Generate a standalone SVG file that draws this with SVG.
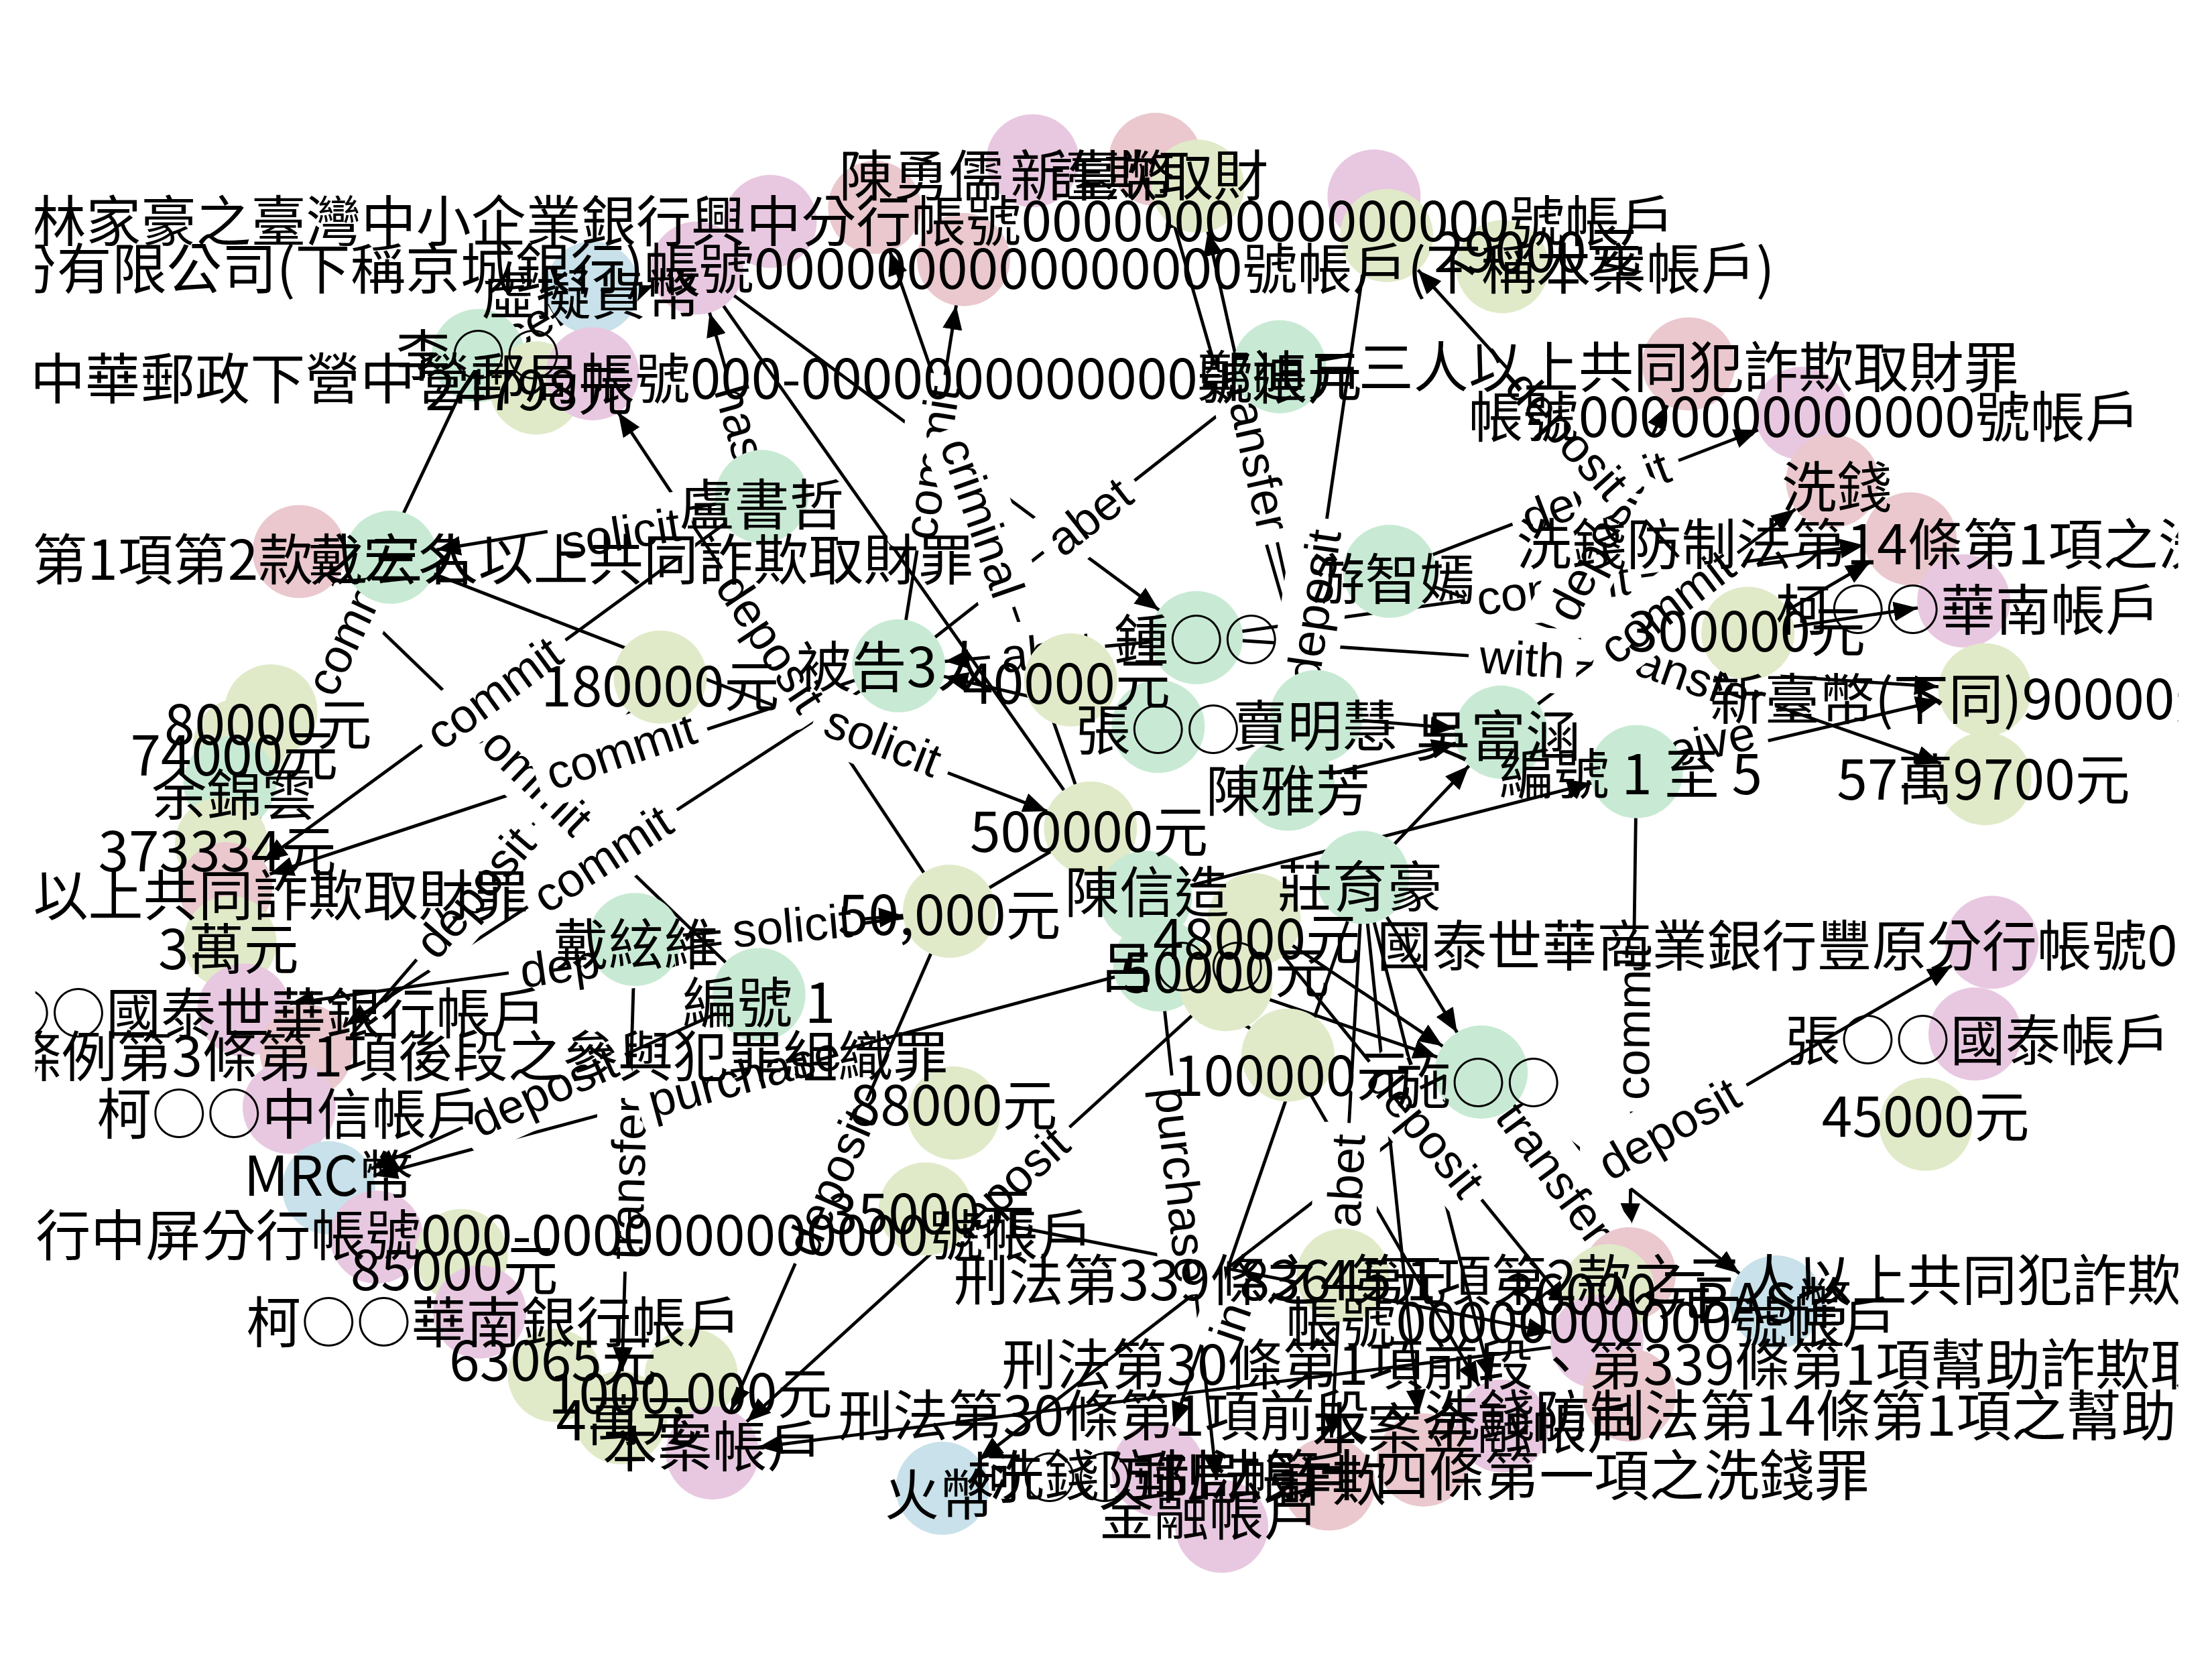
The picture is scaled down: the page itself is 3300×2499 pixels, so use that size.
<svg xmlns="http://www.w3.org/2000/svg" width="3300" height="2499" viewBox="0 0 3300 2499">
<defs>
<style>
.g{fill:#c8ead4}.y{fill:#e0eac8}.l{fill:#e8c8e0}.r{fill:#eac8ce}.b{fill:#c8e1ea}
.t{font-family:"Noto Sans CJK TC","Noto Sans CJK SC",sans-serif;font-size:39px;fill:#000;dominant-baseline:central;text-anchor:middle}
.s{text-anchor:start}.e{text-anchor:end}
.el{font-family:"Liberation Sans",Arial,sans-serif;font-size:34px;fill:#000;text-anchor:middle;dominant-baseline:central}
.bx{fill:#fff}
#edges line{stroke:#000;stroke-width:2.3;marker-end:url(#ah)}
#edges line.na{marker-end:none}
</style>
<marker id="ah" viewBox="0 0 64 14" markerUnits="userSpaceOnUse" markerWidth="64" markerHeight="14" refX="50" refY="7" orient="auto"><path d="M0,0 L17,7 L0,14 z" fill="#000"/></marker>
<clipPath id="ax"><rect x="25" y="0" width="1519" height="1188"/></clipPath>
</defs>
<rect width="3300" height="2499" fill="#fff"/>
<g transform="scale(2.10459)">
<g clip-path="url(#ax)">
<g id="edges">
<line x1="339" y1="252" x2="420" y2="204"/>
<line x1="673" y1="646" x2="420" y2="265"/>
<line x1="540" y1="352" x2="277" y2="395"/>
<line x1="637" y1="472" x2="907" y2="260"/>
<line x1="637" y1="472" x2="683" y2="184"/>
<line x1="773" y1="587" x2="620" y2="147"/>
<line x1="933" y1="508" x2="849" y2="132"/>
<line x1="933" y1="508" x2="819" y2="113"/>
<line x1="913" y1="556" x2="974" y2="139"/>
<line x1="848" y1="452" x2="1407" y2="489"/>
<line x1="985" y1="405" x2="1407" y2="552"/>
<line x1="1160" y1="547" x2="1407" y2="489"/>
<line x1="848" y1="452" x2="1354" y2="382"/>
<line x1="985" y1="405" x2="1277" y2="293"/>
<line x1="1064" y1="519" x2="1299" y2="341"/>
<line x1="1064" y1="519" x2="1197" y2="258"/>
<line x1="1239" y1="449" x2="983" y2="167"/>
<line x1="1239" y1="449" x2="1392" y2="426"/>
<line x1="1160" y1="547" x2="1155" y2="903"/>
<line x1="1050" y1="760" x2="1155" y2="903"/>
<line x1="1120" y1="838" x2="1412" y2="668"/>
<line x1="933" y1="508" x2="1064" y2="519"/>
<line x1="913" y1="556" x2="1064" y2="519"/>
<line x1="966" y1="622" x2="1064" y2="519"/>
<line x1="812" y1="636" x2="1160" y2="547"/>
<line x1="966" y1="622" x2="942" y2="1052"/>
<line x1="822" y1="684" x2="866" y2="1082"/>
<line x1="966" y1="622" x2="821" y2="1042"/>
<line x1="1050" y1="760" x2="668" y2="1055"/>
<line x1="869" y1="698" x2="505" y2="1030"/>
<line x1="673" y1="646" x2="505" y2="1030"/>
<line x1="450" y1="666" x2="440" y2="1005"/>
<line x1="538" y1="705" x2="233" y2="842"/>
<line x1="822" y1="684" x2="233" y2="842"/>
<line x1="468" y1="480" x2="205" y2="785"/>
<line x1="673" y1="646" x2="173" y2="716"/>
<line x1="538" y1="705" x2="212" y2="391"/>
<line x1="637" y1="472" x2="217" y2="745"/>
<line x1="637" y1="472" x2="160" y2="630"/>
<line x1="540" y1="352" x2="160" y2="630"/>
<line x1="339" y1="252" x2="160" y2="630"/>
<line x1="540" y1="352" x2="494" y2="190"/>
<line x1="494" y1="190" x2="848" y2="452"/>
<line class="na" x1="773" y1="587" x2="494" y2="190"/>
<line class="na" x1="673" y1="646" x2="773" y2="587"/>
<line x1="277" y1="395" x2="773" y2="587"/>
<line x1="848" y1="452" x2="637" y2="472"/>
<line x1="821" y1="515" x2="637" y2="472"/>
<line x1="889" y1="652" x2="1050" y2="760"/>
<line x1="869" y1="698" x2="1050" y2="760"/>
<line x1="889" y1="652" x2="1132" y2="951"/>
<line x1="966" y1="622" x2="1009" y2="1035"/>
<line x1="913" y1="748" x2="1065" y2="1011"/>
<line x1="656" y1="857" x2="1132" y2="951"/>
<line x1="1132" y1="951" x2="505" y2="1030"/>
<line x1="1050" y1="760" x2="1259" y2="923"/>
<line x1="966" y1="622" x2="1050" y2="760"/>
<line x1="966" y1="622" x2="1065" y2="1011"/>
<line x1="822" y1="684" x2="913" y2="748"/>
<line x1="339" y1="252" x2="494" y2="190"/>
<line x1="450" y1="666" x2="673" y2="646"/>
<line x1="1239" y1="449" x2="1354" y2="382"/>
</g>
<g id="edge-labels">
<g transform="translate(379.5 228) rotate(-30.6)"><rect class="bx" x="-63" y="-23" width="126" height="46" rx="8"/><text class="el">receive</text></g>
<g transform="translate(546.5 455.5) rotate(56.4)"><rect class="bx" x="-63" y="-23" width="126" height="46" rx="8"/><text class="el">deposit</text></g>
<g transform="translate(440 378) rotate(-9.3)"><rect class="bx" x="-51" y="-23" width="102" height="46" rx="8"/><text class="el">solicit</text></g>
<g transform="translate(772 366) rotate(-38.1)"><rect class="bx" x="-41" y="-23" width="82" height="46" rx="8"/><text class="el">abet</text></g>
<g transform="translate(660 328) rotate(-80.9)"><rect class="bx" x="-63" y="-23" width="126" height="46" rx="8"/><text class="el">commit</text></g>
<g transform="translate(696.5 367) rotate(70.8)"><rect class="bx" x="-67" y="-23" width="134" height="46" rx="8"/><text class="el">criminal</text></g>
<g transform="translate(891 320) rotate(77.4)"><rect class="bx" x="-66" y="-23" width="132" height="46" rx="8"/><text class="el">transfer</text></g>
<g transform="translate(931 430) rotate(-81.7)"><rect class="bx" x="-63" y="-23" width="126" height="46" rx="8"/><text class="el">deposit</text></g>
<g transform="translate(1079 467) rotate(3.8)"><rect class="bx" x="-38" y="-23" width="77" height="46" rx="8"/><text class="el">with</text></g>
<g transform="translate(1196 478.5) rotate(19.2)"><rect class="bx" x="-66" y="-23" width="132" height="46" rx="8"/><text class="el">transfer</text></g>
<g transform="translate(1190 531) rotate(-13.2)"><rect class="bx" x="-63" y="-23" width="126" height="46" rx="8"/><text class="el">receive</text></g>
<g transform="translate(1101 417) rotate(-7.9)"><rect class="bx" x="-63" y="-23" width="126" height="46" rx="8"/><text class="el">commit</text></g>
<g transform="translate(1131 349) rotate(-21)"><rect class="bx" x="-63" y="-23" width="126" height="46" rx="8"/><text class="el">deposit</text></g>
<g transform="translate(1181.5 430) rotate(-37.1)"><rect class="bx" x="-63" y="-23" width="126" height="46" rx="8"/><text class="el">commit</text></g>
<g transform="translate(1130.5 388.5) rotate(-63)"><rect class="bx" x="-63" y="-23" width="126" height="46" rx="8"/><text class="el">deposit</text></g>
<g transform="translate(1111 308) rotate(47.8)"><rect class="bx" x="-63" y="-23" width="126" height="46" rx="8"/><text class="el">deposit</text></g>
<g transform="translate(1157.5 725) rotate(-89.2)"><rect class="bx" x="-63" y="-23" width="126" height="46" rx="8"/><text class="el">commit</text></g>
<g transform="translate(1102.5 831.5) rotate(53.7)"><rect class="bx" x="-66" y="-23" width="132" height="46" rx="8"/><text class="el">transfer</text></g>
<g transform="translate(1183 800) rotate(-30.2)"><rect class="bx" x="-63" y="-23" width="126" height="46" rx="8"/><text class="el">deposit</text></g>
<g transform="translate(954 837) rotate(-86.8)"><rect class="bx" x="-41" y="-23" width="82" height="46" rx="8"/><text class="el">abet</text></g>
<g transform="translate(838 840) rotate(83.7)"><rect class="bx" x="-78" y="-23" width="156" height="46" rx="8"/><text class="el">purchase</text></g>
<g transform="translate(872 937) rotate(-71)"><rect class="bx" x="-22" y="-23" width="44" height="46" rx="8"/><text class="el">in</text></g>
<g transform="translate(712 842) rotate(-42.4)"><rect class="bx" x="-63" y="-23" width="126" height="46" rx="8"/><text class="el">deposit</text></g>
<g transform="translate(589 838) rotate(-66.4)"><rect class="bx" x="-63" y="-23" width="126" height="46" rx="8"/><text class="el">deposit</text></g>
<g transform="translate(445 835.5) rotate(-88.3)"><rect class="bx" x="-66" y="-23" width="132" height="46" rx="8"/><text class="el">transfer</text></g>
<g transform="translate(385.5 773.5) rotate(-24.2)"><rect class="bx" x="-63" y="-23" width="126" height="46" rx="8"/><text class="el">deposit</text></g>
<g transform="translate(527.5 763) rotate(-15)"><rect class="bx" x="-78" y="-23" width="156" height="46" rx="8"/><text class="el">purchase</text></g>
<g transform="translate(336.5 632.5) rotate(-49.2)"><rect class="bx" x="-63" y="-23" width="126" height="46" rx="8"/><text class="el">deposit</text></g>
<g transform="translate(423 681) rotate(-8)"><rect class="bx" x="-63" y="-23" width="126" height="46" rx="8"/><text class="el">deposit</text></g>
<g transform="translate(375 548) rotate(44)"><rect class="bx" x="-63" y="-23" width="126" height="46" rx="8"/><text class="el">commit</text></g>
<g transform="translate(427 608.5) rotate(-33)"><rect class="bx" x="-63" y="-23" width="126" height="46" rx="8"/><text class="el">commit</text></g>
<g transform="translate(440 532) rotate(-18.3)"><rect class="bx" x="-63" y="-23" width="126" height="46" rx="8"/><text class="el">commit</text></g>
<g transform="translate(350 491) rotate(-36.2)"><rect class="bx" x="-63" y="-23" width="126" height="46" rx="8"/><text class="el">commit</text></g>
<g transform="translate(249.5 441) rotate(-64.7)"><rect class="bx" x="-63" y="-23" width="126" height="46" rx="8"/><text class="el">commit</text></g>
<g transform="translate(525 300) rotate(74.1)"><rect class="bx" x="-36" y="-23" width="72" height="46" rx="8"/><text class="el">has</text></g>
<g transform="translate(626 525) rotate(21.2)"><rect class="bx" x="-51" y="-23" width="102" height="46" rx="8"/><text class="el">solicit</text></g>
<g transform="translate(742.5 462) rotate(-5.4)"><rect class="bx" x="-41" y="-23" width="82" height="46" rx="8"/><text class="el">abet</text></g>
<g transform="translate(1010.5 801.5) rotate(50.9)"><rect class="bx" x="-63" y="-23" width="126" height="46" rx="8"/><text class="el">deposit</text></g>
<g transform="translate(561.5 656) rotate(-5.1)"><rect class="bx" x="-51" y="-23" width="102" height="46" rx="8"/><text class="el">solicit</text></g>
</g>
<g id="nodes">
<g id="n01"><circle class="l" cx="546" cy="157" r="33"/></g>
<g id="n02"><circle class="l" cx="494" cy="190" r="33"/></g>
<g id="n03"><circle class="r" cx="620" cy="147" r="33"/></g>
<g id="n04"><circle class="r" cx="683" cy="184" r="33"/></g>
<g id="n05"><circle class="l" cx="732" cy="114" r="33"/></g>
<g id="n06"><circle class="r" cx="819" cy="113" r="33"/></g>
<g id="n07"><circle class="y" cx="849" cy="132" r="33"/></g>
<g id="n08"><circle class="l" cx="974" cy="139" r="33"/></g>
<g id="n09"><circle class="y" cx="983" cy="167" r="33"/></g>
<g id="n10"><circle class="y" cx="1065" cy="189" r="33"/></g>
<g id="n11"><circle class="b" cx="420" cy="204" r="33"/></g>
<g id="n12"><circle class="g" cx="339" cy="252" r="33"/></g>
<g id="n13"><circle class="y" cx="380" cy="275" r="33"/></g>
<g id="n14"><circle class="l" cx="420" cy="265" r="33"/></g>
<g id="n15"><circle class="g" cx="907" cy="260" r="33"/></g>
<g id="n16"><circle class="r" cx="1197" cy="258" r="33"/></g>
<g id="n17"><circle class="l" cx="1277" cy="293" r="33"/></g>
<g id="n18"><circle class="g" cx="540" cy="352" r="33"/></g>
<g id="n19"><circle class="r" cx="1299" cy="341" r="33"/></g>
<g id="n20"><circle class="r" cx="212" cy="391" r="33"/></g>
<g id="n21"><circle class="g" cx="277" cy="395" r="33"/></g>
<g id="n22"><circle class="r" cx="1354" cy="382" r="33"/></g>
<g id="n23"><circle class="g" cx="985" cy="405" r="33"/></g>
<g id="n24"><circle class="l" cx="1392" cy="426" r="33"/></g>
<g id="n25"><circle class="y" cx="1239" cy="449" r="33"/></g>
<g id="n26"><circle class="g" cx="848" cy="452" r="33"/></g>
<g id="n27"><circle class="g" cx="637" cy="472" r="33"/></g>
<g id="n28"><circle class="y" cx="759" cy="482" r="33"/></g>
<g id="n29"><circle class="y" cx="468" cy="480" r="33"/></g>
<g id="n30"><circle class="y" cx="192" cy="504" r="33"/></g>
<g id="n31"><circle class="y" cx="170" cy="528" r="33"/></g>
<g id="n32"><circle class="g" cx="163" cy="555" r="33"/></g>
<g id="n33"><circle class="y" cx="157" cy="598" r="33"/></g>
<g id="n34"><circle class="r" cx="160" cy="630" r="33"/></g>
<g id="n35"><circle class="y" cx="163" cy="668" r="33"/></g>
<g id="n36"><circle class="l" cx="173" cy="716" r="33"/></g>
<g id="n37"><circle class="r" cx="217" cy="745" r="33"/></g>
<g id="n38"><circle class="l" cx="205" cy="785" r="33"/></g>
<g id="n39"><circle class="b" cx="233" cy="842" r="33"/></g>
<g id="n40"><circle class="l" cx="267" cy="877" r="33"/></g>
<g id="n41"><circle class="y" cx="327" cy="890" r="33"/></g>
<g id="n42"><circle class="l" cx="340" cy="930" r="33"/></g>
<g id="n43"><circle class="y" cx="393" cy="975" r="33"/></g>
<g id="n44"><circle class="y" cx="490" cy="975" r="33"/></g>
<g id="n45"><circle class="y" cx="440" cy="1005" r="33"/></g>
<g id="n46"><circle class="l" cx="505" cy="1030" r="33"/></g>
<g id="n47"><circle class="g" cx="933" cy="508" r="33"/></g>
<g id="n48"><circle class="g" cx="821" cy="515" r="33"/></g>
<g id="n49"><circle class="g" cx="913" cy="556" r="33"/></g>
<g id="n50"><circle class="g" cx="1064" cy="519" r="33"/></g>
<g id="n51"><circle class="g" cx="1160" cy="547" r="33"/></g>
<g id="n52"><circle class="y" cx="1407" cy="489" r="33"/></g>
<g id="n53"><circle class="y" cx="1407" cy="552" r="33"/></g>
<g id="n54"><circle class="y" cx="773" cy="587" r="33"/></g>
<g id="n55"><circle class="g" cx="812" cy="636" r="33"/></g>
<g id="n56"><circle class="g" cx="966" cy="622" r="33"/></g>
<g id="n57"><circle class="y" cx="673" cy="646" r="33"/></g>
<g id="n58"><circle class="g" cx="450" cy="666" r="33"/></g>
<g id="n59"><circle class="g" cx="538" cy="705" r="33"/></g>
<g id="n60"><circle class="g" cx="822" cy="684" r="33"/></g>
<g id="n61"><circle class="y" cx="889" cy="652" r="33"/></g>
<g id="n62"><circle class="y" cx="869" cy="698" r="33"/></g>
<g id="n63"><circle class="l" cx="1412" cy="668" r="33"/></g>
<g id="n64"><circle class="l" cx="1400" cy="733" r="33"/></g>
<g id="n65"><circle class="y" cx="1365" cy="797" r="33"/></g>
<g id="n66"><circle class="y" cx="913" cy="748" r="33"/></g>
<g id="n67"><circle class="g" cx="1050" cy="760" r="33"/></g>
<g id="n68"><circle class="y" cx="676" cy="789" r="33"/></g>
<g id="n69"><circle class="y" cx="656" cy="857" r="33"/></g>
<g id="n70"><circle class="r" cx="1155" cy="903" r="33"/></g>
<g id="n71"><circle class="y" cx="952" cy="904" r="33"/></g>
<g id="n72"><circle class="b" cx="1259" cy="923" r="33"/></g>
<g id="n73"><circle class="y" cx="1140" cy="915" r="33"/></g>
<g id="n74"><circle class="l" cx="1132" cy="951" r="33"/></g>
<g id="n75"><circle class="r" cx="1155" cy="989" r="33"/></g>
<g id="n76"><circle class="l" cx="1065" cy="1011" r="33"/></g>
<g id="n77"><circle class="r" cx="1009" cy="1035" r="33"/></g>
<g id="n78"><circle class="b" cx="668" cy="1055" r="33"/></g>
<g id="n79"><circle class="l" cx="821" cy="1042" r="33"/></g>
<g id="n80"><circle class="l" cx="866" cy="1082" r="33"/></g>
<g id="n81"><circle class="r" cx="942" cy="1052" r="33"/></g>
</g>
<g id="node-labels">
<text class="t" x="653" y="122">陳勇儒</text>
<text class="t s" x="716" y="122">新臺幣</text>
<text class="t" x="821" y="122">詐欺取財</text>
<text class="t s" x="22" y="154">林家豪之臺灣中小企業銀行興中分行帳號0000000000000000號帳戶</text>
<text class="t e" x="1258" y="188">京城商業銀行股份有限公司(下稱京城銀行)帳號0000000000000000號帳戶(下稱本案帳戶)</text>
<text class="t" x="1090" y="176">29000元</text>
<text class="t" x="419" y="206">虛擬貨幣</text>
<text class="t" x="339" y="249">李○○</text>
<text class="t e" x="966" y="266">中華郵政下營中營郵局帳號000-0000000000000號帳戶</text>
<text class="t" x="375" y="274">24798元</text>
<text class="t" x="907" y="264">鄭迪元</text>
<text class="t" x="1197" y="258">三人以上共同犯詐欺取財罪</text>
<text class="t" x="1279" y="293">帳號0000000000000號帳戶</text>
<text class="t" x="540" y="355">盧書哲</text>
<text class="t" x="1302" y="343">洗錢</text>
<text class="t e" x="690" y="394">刑法第339條之4第1項第2款之三人以上共同詐欺取財罪</text>
<text class="t" x="277" y="394">戴宏名</text>
<text class="t s" x="1075" y="383">洗錢防制法第14條第1項之洗錢罪</text>
<text class="t" x="987" y="408">游智嫣</text>
<text class="t" x="1395" y="430">柯○○華南帳戶</text>
<text class="t" x="1238" y="445">300000元</text>
<text class="t" x="848" y="451">鍾○○</text>
<text class="t" x="634" y="470">被告3人</text>
<text class="t" x="756" y="482">40000元</text>
<text class="t" x="468" y="484">180000元</text>
<text class="t" x="190" y="511">80000元</text>
<text class="t" x="166" y="533">74000元</text>
<text class="t" x="166" y="561">余錦雲</text>
<text class="t" x="154" y="601">373334元</text>
<text class="t" x="160" y="632">三人以上共同詐欺取財罪</text>
<text class="t" x="162" y="670">3萬元</text>
<text class="t e" x="387" y="716">柯○○國泰世華銀行帳戶</text>
<text class="t e" x="672" y="746">組織犯罪防制條例第3條第1項後段之參與犯罪組織罪</text>
<text class="t" x="205" y="787">柯○○中信帳戶</text>
<text class="t" x="233" y="831">MRC幣</text>
<text class="t e" x="775" y="873">臺灣土地銀行中屏分行帳號000-0000000000000號帳戶</text>
<text class="t" x="322" y="898">85000元</text>
<text class="t" x="350" y="935">柯○○華南銀行帳戶</text>
<text class="t" x="392" y="962">63065元</text>
<text class="t e" x="590" y="985">1000,000元</text>
<text class="t" x="444" y="1004">4萬元</text>
<text class="t" x="505" y="1023">本案帳戶</text>
<text class="t s" x="594" y="1001">刑法第30條第1項前段、洗錢防制法第14條第1項之幫助洗錢罪</text>
<text class="t" x="666" y="1057">火幣</text>
<text class="t" x="822" y="1045">柯○○郵局帳戶</text>
<text class="t e" x="1325" y="1043">洗錢防制法第十四條第一項之洗錢罪</text>
<text class="t" x="857" y="1071">金融帳戶</text>
<text class="t" x="944" y="1047">詐欺</text>
<text class="t" x="1047" y="1010">本案金融帳戶</text>
<text class="t s" x="710" y="965">刑法第30條第1項前段、第339條第1項幫助詐欺取財罪</text>
<text class="t" x="1128" y="935">帳號00000000000號帳戶</text>
<text class="t s" x="676" y="905">刑法第339條之4第1項第2款之三人以上共同犯詐欺取財罪</text>
<text class="t" x="952" y="905">83645元</text>
<text class="t" x="1257" y="921">BAS幣</text>
<text class="t" x="1140" y="915">36000元</text>
<text class="t" x="1365" y="789">45000元</text>
<text class="t" x="1402" y="735">張○○國泰帳戶</text>
<text class="t s" x="976" y="668">國泰世華商業銀行豐原分行帳號0000000000號帳戶</text>
<text class="t" x="1048" y="765">施○○</text>
<text class="t" x="916" y="760">100000元</text>
<text class="t" x="676" y="781">88000元</text>
<text class="t" x="660" y="858">35000元</text>
<text class="t" x="538" y="708">編號 1</text>
<text class="t" x="451" y="667">戴絃維</text>
<text class="t" x="673" y="646">50,000元</text>
<text class="t" x="891" y="663">48000元</text>
<text class="t" x="869" y="687">50000元</text>
<text class="t" x="838" y="683">呂○○</text>
<text class="t" x="813" y="630">陳信造</text>
<text class="t" x="964" y="626">莊育豪</text>
<text class="t" x="772" y="587">500000元</text>
<text class="t" x="913" y="558">陳雅芳</text>
<text class="t" x="821" y="515">張○○</text>
<text class="t" x="932" y="512">賣明慧</text>
<text class="t" x="1062" y="519">吳富涵</text>
<text class="t" x="1156" y="546">編號 1 至 5</text>
<text class="t s" x="1212" y="493">新臺幣(下同)90000元</text>
<text class="t" x="1406" y="550">57萬9700元</text>
</g>
</g>
</g>
</svg>
